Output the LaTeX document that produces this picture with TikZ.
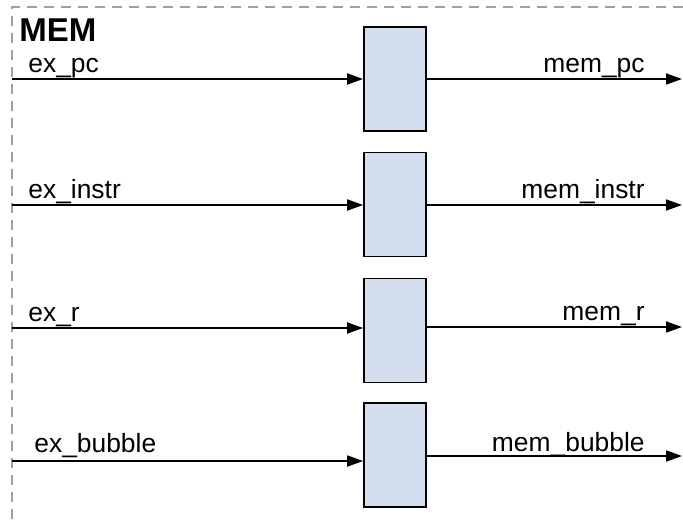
\documentclass[tikz,border=0pt]{standalone}
\usepackage{fontspec}
\setmainfont{Liberation Sans}
\usetikzlibrary{arrows.meta}

\definecolor{regfill}{RGB}{212,222,238}
\definecolor{bordergray}{RGB}{160,160,160}

\tikzset{
  reg/.style={draw, line width=0.9pt, fill=regfill, minimum width=31pt, minimum height=52pt, inner sep=0pt},
  wire/.style={line width=0.9pt, -{Triangle[length=8pt,width=5.5pt]}},
  sig/.style={inner sep=0pt, font=\fontsize{13.2}{15}\selectfont},
  frame/.style={bordergray, line width=1pt, dash pattern=on 5pt off 3.5pt}
}

\begin{document}
\begin{tikzpicture}[x=0.5pt, y=-0.5pt]
\useasboundingbox (0,0) rectangle (683,519);

% stage frame
\draw[frame] (12,519) -- (12,7) -- (683,7);
\node[anchor=base west, inner sep=0pt, font=\fontsize{16.5}{18}\selectfont\bfseries] (title) at (19,42) {MEM};

% pipeline registers
\node[reg] (pcreg) at (395,79) {};
\node[reg] (instrreg) at (395,204.5) {};
\node[reg] (rreg) at (395,330.5) {};
\node[reg] (bubblereg) at (395,455) {};

% inputs
\coordinate (pcin) at (12,79);
\coordinate (instrin) at (12,205);
\coordinate (rin) at (12,328);
\coordinate (bubblein) at (12,461);

% outputs
\coordinate (pcout) at (682,79);
\coordinate (instrout) at (682,205);
\coordinate (rout) at (682,327);
\coordinate (bubbleout) at (682,456);

\draw[wire] (pcin) -- (pcin -| pcreg.west);
\draw[wire] (instrin) -- (instrin -| instrreg.west);
\draw[wire] (rin) -- (rin -| rreg.west);
\draw[wire] (bubblein) -- (bubblein -| bubblereg.west);

\draw[wire] (pcout -| pcreg.east) -- (pcout);
\draw[wire] (instrout -| instrreg.east) -- (instrout);
\draw[wire] (rout -| rreg.east) -- (rout);
\draw[wire] (bubbleout -| bubblereg.east) -- (bubbleout);

\node[sig, anchor=base west] (expc) at (28,73) {ex\_pc};
\node[sig, anchor=base west] (exinstr) at (28,198) {ex\_instr};
\node[sig, anchor=base west] (exr) at (28,321) {ex\_r};
\node[sig, anchor=base west] (exbubble) at (34,452) {ex\_bubble};

\node[sig, anchor=base east] (mempc) at (645,73) {mem\_pc};
\node[sig, anchor=base east] (meminstr) at (645,198) {mem\_instr};
\node[sig, anchor=base east] (memr) at (645,320) {mem\_r};
\node[sig, anchor=base east] (membubble) at (645,451) {mem\_bubble};

\end{tikzpicture}
\end{document}
